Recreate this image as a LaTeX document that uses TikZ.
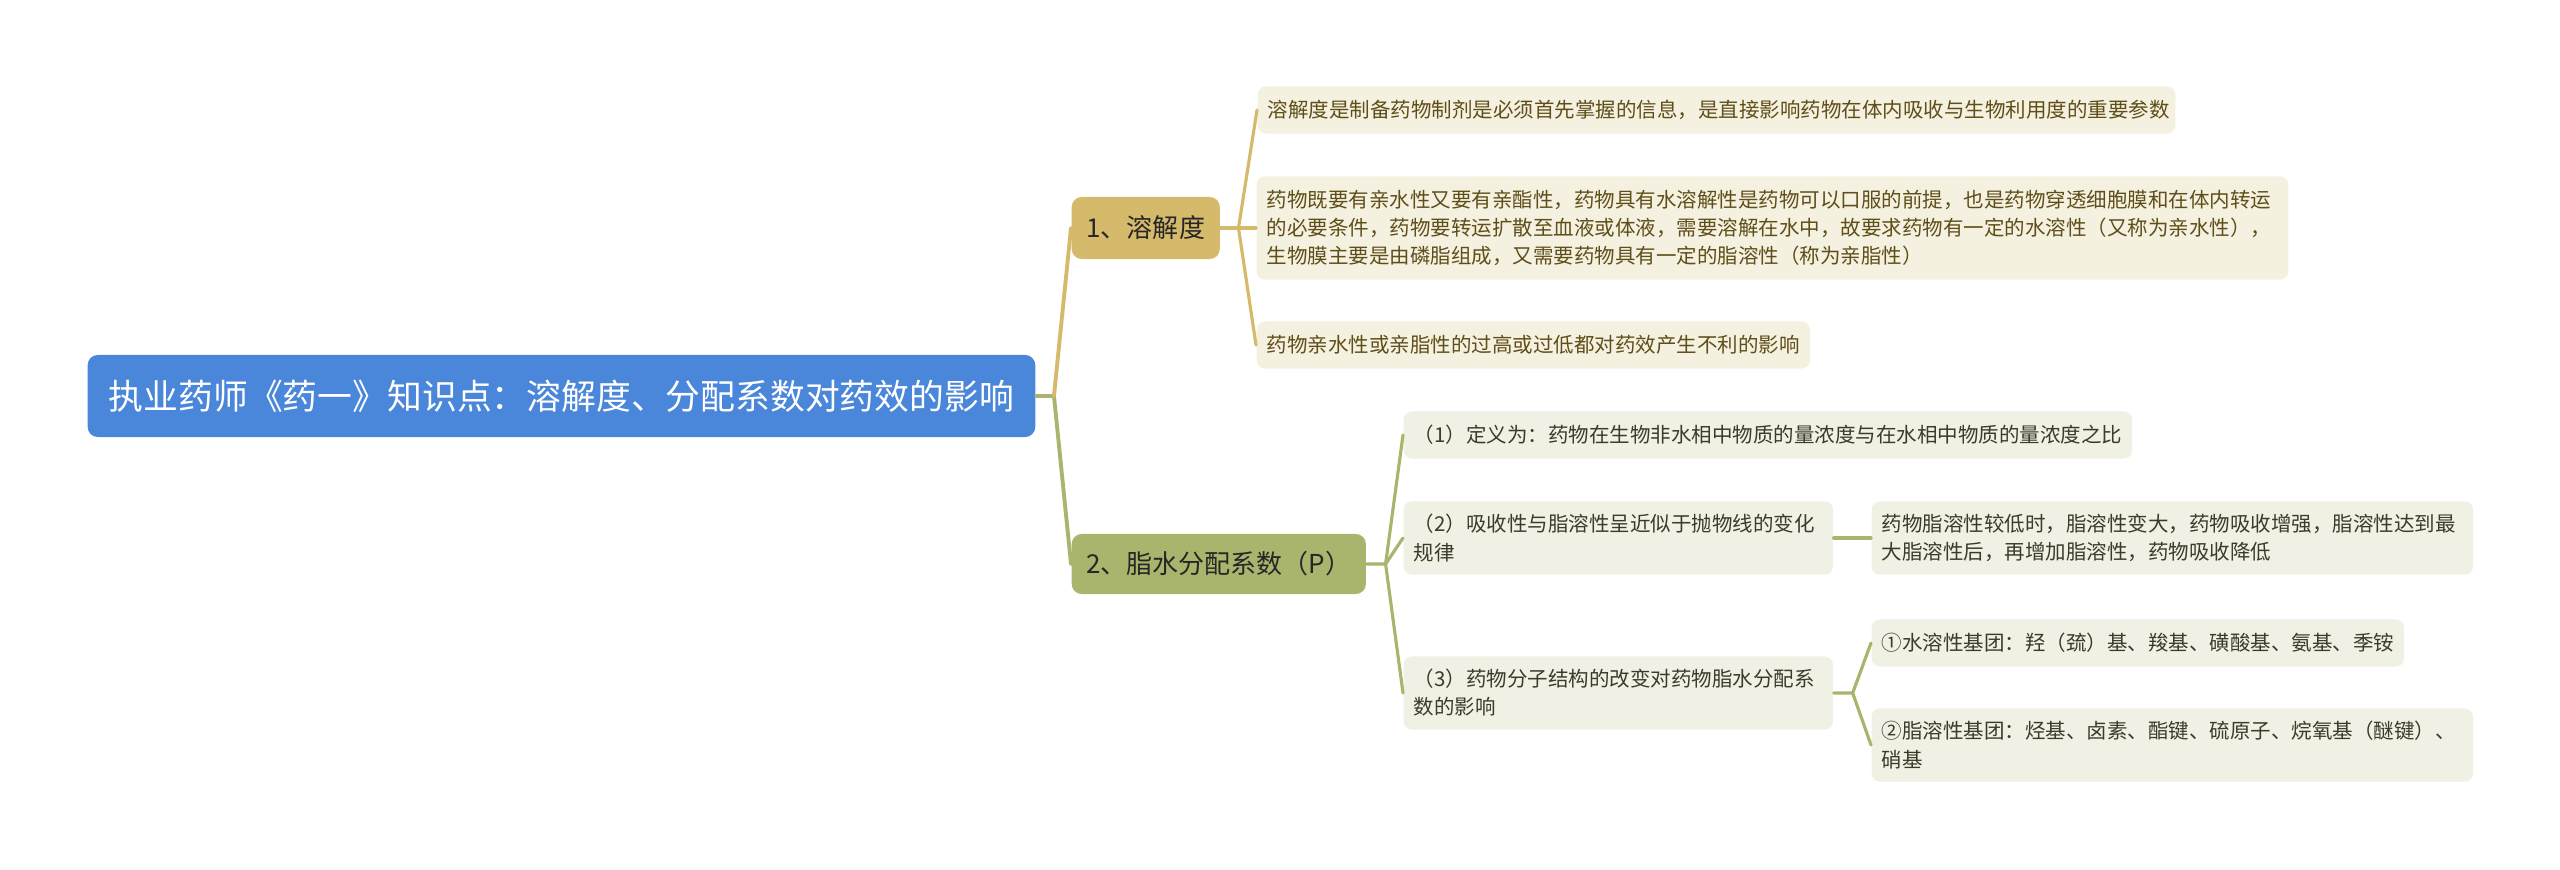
\documentclass[tikz,border=0pt]{standalone}
\usepackage{fontspec}
\setmainfont{Noto Sans CJK SC}
\usetikzlibrary{calc,positioning}

\definecolor{rootblue}{RGB}{74,134,217}
\definecolor{tanfill}{RGB}{212,186,106}
\definecolor{olivefill}{RGB}{169,180,108}
\definecolor{tanleaf}{RGB}{245,241,224}
\definecolor{oliveleaf}{RGB}{240,240,228}
\definecolor{tantext}{RGB}{95,78,25}
\definecolor{olivetext}{RGB}{60,58,40}

\begin{document}
\begin{tikzpicture}[x=0.01cm, y=-0.01cm,
root/.style = {rectangle, rounded corners=0.1cm, fill=rootblue, text=white, anchor=west,
               font=\fontsize{9.9pt}{12pt}\selectfont, minimum width=9.47cm,
               minimum height=0.82cm, inner sep=0pt},
branch/.style = {rectangle, rounded corners=0.1cm, anchor=west, text=black!85,
                 font=\fontsize{7.4pt}{9pt}\selectfont, inner sep=0pt, minimum height=0.62cm},
leafa/.style = {rectangle, rounded corners=0.08cm, fill=tanleaf, text=tantext, anchor=west,
                font=\fontsize{5.83pt}{8pt}\selectfont, align=left, inner xsep=0.1cm,
                inner ysep=0pt, text width=#1, minimum height=0.47cm},
leafb/.style = {leafa=#1, fill=oliveleaf, text=olivetext},
line/.style = {draw, line width=1.1pt, line cap=round},
twig/.style = {draw, line width=0.9pt, line cap=round}]

\useasboundingbox (0,0) rectangle (2560,870);

% root and main branches
\node [root] (root) at (87,396) {执业药师《药一》知识点：溶解度、分配系数对药效的影响};
\node [branch, fill=tanfill, minimum width=1.48cm] (solub) at (1071,228) {1、溶解度};
\node [branch, fill=olivefill, minimum width=2.94cm, minimum height=0.60cm] (partition)
      at (1071,564) {2、脂水分配系数（P）};

% leaves of branch 1
\node [leafa=8.97cm] (solubdef) at (1257,110)
      {溶解度是制备药物制剂是必须首先掌握的信息，是直接影响药物在体内吸收与生物利用度的重要参数};
\node [leafa=10.11cm, minimum height=1.03cm] (solubwhy) at (1256,228)
      {药物既要有亲水性又要有亲酯性，药物具有水溶解性是药物可以口服的前提，也是药物穿透细胞膜和在体内转运\\
       的必要条件，药物要转运扩散至血液或体液，需要溶解在水中，故要求药物有一定的水溶性（又称为亲水性），\\
       生物膜主要是由磷脂组成，又需要药物具有一定的脂溶性（称为亲脂性）};
\node [leafa=5.33cm] (solubbad) at (1256,345) {药物亲水性或亲脂性的过高或过低都对药效产生不利的影响};

% leaves of branch 2
\node [leafb=7.08cm] (pdef) at (1403,435)
      {（1）定义为：药物在生物非水相中物质的量浓度与在水相中物质的量浓度之比};
\node [leafb=4.09cm, minimum height=0.73cm] (pcurve) at (1403,538)
      {（2）吸收性与脂溶性呈近似于抛物线的变化\\规律};
\node [leafb=5.81cm, minimum height=0.73cm] (pcurvenote) at (1871,538)
      {药物脂溶性较低时，脂溶性变大，药物吸收增强，脂溶性达到最\\大脂溶性后，再增加脂溶性，药物吸收降低};
\node [leafb=4.09cm, minimum height=0.73cm] (pstruct) at (1403,693)
      {（3）药物分子结构的改变对药物脂水分配系\\数的影响};
\node [leafb=5.12cm] (pwater) at (1871,643) {①水溶性基团：羟（巯）基、羧基、磺酸基、氨基、季铵};
\node [leafb=5.81cm, minimum height=0.73cm] (plipid) at (1871,745)
      {②脂溶性基团：烃基、卤素、酯键、硫原子、烷氧基（醚键）、\\硝基};

\coordinate (rootfork) at ($(root.east)+(18,0)$);
\coordinate (solubfork) at ($(solub.east)+(18,0)$);
\coordinate (partfork) at ($(partition.east)+(19,0)$);
\coordinate (curvefork) at ($(pcurve.east)+(19,0)$);
\coordinate (structfork) at ($(pstruct.east)+(19,0)$);

\begin{scope}[every path/.style=line]
\path [draw=olivefill] (root.east) -- (rootfork) -- (partition.west);
\path [draw=tanfill] (rootfork) -- (solub.west);
\end{scope}

\begin{scope}[every path/.style=twig]
\path [draw=tanfill] (solub.east) -- (solubfork) -- (solubwhy.west);
\path [draw=tanfill] (solubfork) -- (solubdef.west);
\path [draw=tanfill] (solubfork) -- (solubbad.west);

\path [draw=olivefill] (partition.east) -- (partfork) -- (pcurve.west);
\path [draw=olivefill] (partfork) -- (pdef.west);
\path [draw=olivefill] (partfork) -- (pstruct.west);

\path [draw=olivefill] (pcurve.east) -- (curvefork) -- (pcurvenote.west);
\path [draw=olivefill] (pstruct.east) -- (structfork) -- (pwater.west);
\path [draw=olivefill] (structfork) -- (plipid.west);
\end{scope}
\end{tikzpicture}
\end{document}
